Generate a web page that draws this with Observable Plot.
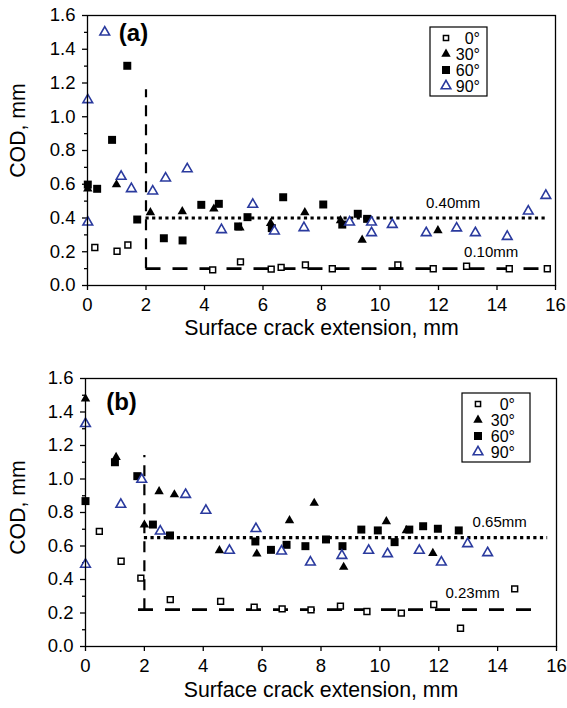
<!DOCTYPE html>
<html><head><meta charset="utf-8">
<script src="https://cdn.jsdelivr.net/npm/d3@7"></script>
<script src="https://cdn.jsdelivr.net/npm/@observablehq/plot@0.6"></script>
<style>body{margin:0;background:#fff} #chart svg{display:block}</style>
</head><body><div id="chart"></div>
<script>
// ---- data ----
const seriesNames = ["0°", "30°", "60°", "90°"];
const xTicks = [0, 2, 4, 6, 8, 10, 12, 14, 16];
const yTicks = [0, 0.2, 0.4, 0.6, 0.8, 1.0, 1.2, 1.4, 1.6];
const yMinorTicks = [0.1, 0.3, 0.5, 0.7, 0.9, 1.1, 1.3, 1.5];

// panel (a)
const a0 = [[0.25,0.225],[1.01,0.203],[1.38,0.24],[4.28,0.093],[5.23,0.14],[6.28,0.097],[6.62,0.107],[7.45,0.122],[8.37,0.099],[10.61,0.122],[11.82,0.099],[12.96,0.114],[14.42,0.099],[15.72,0.099]];
const a30 = [[0.01,0.573],[0.99,0.598],[2.15,0.433],[3.24,0.439],[4.32,0.454],[5.21,0.342],[6.26,0.369],[7.43,0.433],[8.65,0.385],[9.39,0.27],[11.98,0.326]];
const a60 = [[0.01,0.598],[0.33,0.573],[0.84,0.863],[1.36,1.302],[1.7,0.391],[2.61,0.28],[3.25,0.267],[3.89,0.478],[4.49,0.484],[5.15,0.35],[5.47,0.405],[6.3,0.34],[6.69,0.523],[8.06,0.48],[8.71,0.361],[9.24,0.425],[9.56,0.395]];
const a90 = [[0.01,1.1],[0.01,0.375],[0.59,1.501],[1.15,0.646],[1.5,0.573],[2.23,0.559],[2.67,0.636],[3.41,0.691],[4.58,0.33],[5.65,0.48],[6.39,0.322],[7.4,0.342],[8.96,0.375],[9.71,0.375],[9.71,0.312],[10.42,0.361],[11.58,0.312],[12.62,0.34],[13.26,0.312],[14.35,0.29],[15.07,0.44],[15.67,0.533]];
const aMeanHigh = {value: 0.40, x1: 2, x2: 15.7, label: "0.40mm", lx: 12.5, ly: 0.49};
const aMeanLow = {value: 0.10, x1: 2, x2: 15.8, label: "0.10mm", lx: 13.8, ly: 0.20};
const aVertical = {x: 2, y1: 0.10, y2: 1.16};

// panel (b)
const b0 = [[0.47,0.687],[1.21,0.509],[1.88,0.408],[2.88,0.28],[4.59,0.269],[5.73,0.235],[6.68,0.225],[7.66,0.219],[8.66,0.241],[9.56,0.209],[10.73,0.199],[11.83,0.251],[12.74,0.109],[14.58,0.344]];
const b30 = [[0,1.479],[1.04,1.13],[2.0,0.726],[2.5,0.925],[3.02,0.907],[4.55,0.573],[5.82,0.553],[6.93,0.752],[7.77,0.856],[8.77,0.474],[10.22,0.746],[10.9,0.693],[11.8,0.557]];
const b60 = [[0,0.868],[1.0,1.1],[1.76,1.017],[2.29,0.728],[2.87,0.663],[5.77,0.627],[6.3,0.577],[6.83,0.607],[7.47,0.599],[8.17,0.639],[8.73,0.599],[9.37,0.698],[9.93,0.693],[10.5,0.623],[11.0,0.698],[11.47,0.718],[11.97,0.703],[12.68,0.693]];
const b90 = [[0,1.33],[0,0.49],[1.2,0.848],[1.91,0.997],[2.54,0.688],[3.4,0.907],[4.09,0.812],[4.89,0.573],[5.79,0.703],[6.66,0.569],[7.64,0.503],[8.71,0.543],[9.62,0.573],[10.26,0.553],[11.34,0.573],[12.09,0.503],[12.98,0.613],[13.66,0.559]];
const bMeanHigh = {value: 0.65, x1: 2, x2: 15.7, label: "0.65mm", lx: 14.07, ly: 0.74};
const bMeanLow = {value: 0.22, x1: 1.8, x2: 15.45, label: "0.23mm", lx: 13.15, ly: 0.32};
const bVertical = {x: 2, y1: 0.22, y2: 1.14};

// ---- styles ----
const BLUE = "#2a3a9e";
const FONT = "'Liberation Sans', Arial, Helvetica, sans-serif";
const styles = [
  {symbol: "square", fill: "white", stroke: "black", r: 3.3, strokeWidth: 1.5},
  {symbol: "triangle", fill: "black", stroke: "none", r: 3.5, strokeWidth: 0},
  {symbol: "square", fill: "black", stroke: "none", r: 4.5, strokeWidth: 0},
  {symbol: "triangle", fill: "white", stroke: BLUE, r: 3.6, strokeWidth: 1.6}
];

function panel(cfg) {
  const dotMarks = cfg.series.map((s, i) => Plot.dot(s, {
    x: d => d[0], y: d => d[1],
    symbol: styles[i].symbol, fill: styles[i].fill, stroke: styles[i].stroke,
    r: styles[i].r, strokeWidth: styles[i].strokeWidth
  }));
  const svg = Plot.plot({
    width: 567, height: cfg.height,
    marginLeft: cfg.ml, marginRight: cfg.mr, marginTop: cfg.mt, marginBottom: cfg.mb,
    style: {fontFamily: FONT, fontSize: "18.5px", color: "black", background: "white"},
    x: {domain: [0, 16]},
    y: {domain: [0, 1.6]},
    marks: [
      Plot.axisY({ticks: yTicks, tickSize: 5, tickPadding: 7, tickFormat: d3.format(".1f"), label: null, strokeWidth: 1.3}),
      Plot.axisY({ticks: yMinorTicks, tickSize: 3, tickFormat: () => "", label: null, strokeWidth: 1.3}),
      Plot.axisX({ticks: xTicks, tickSize: 5, tickPadding: 7, label: null, strokeWidth: 1.3}),
      Plot.ruleX([cfg.vertical], {x: "x", y1: "y1", y2: "y2", strokeWidth: 2.2, strokeDasharray: "11,8"}),
      Plot.ruleY([cfg.high], {y: "value", x1: "x1", x2: "x2", strokeWidth: 3.2, strokeDasharray: "3.2,3.4"}),
      Plot.ruleY([cfg.low], {y: "value", x1: "x1", x2: "x2", strokeWidth: 2.7, strokeDasharray: "15,12"}),
      ...dotMarks,
      Plot.text([cfg.high, cfg.low], {x: "lx", y: "ly", text: "label", fontSize: 15}),
      Plot.text([cfg.tag], {text: d => d, frameAnchor: "top-left", dx: cfg.tagDx, dy: cfg.tagDy, textAnchor: "middle", lineAnchor: "middle", fontWeight: "bold", fontSize: 24}),
      Plot.text(["Surface crack extension, mm"], {text: d => d, frameAnchor: "bottom", dy: cfg.xlDy, lineAnchor: "middle", fontSize: 21.3}),
      Plot.text(["COD, mm"], {text: d => d, frameAnchor: "left", rotate: -90, dx: cfg.ylDx, dy: cfg.ylDy, lineAnchor: "middle", textAnchor: "middle", fontSize: 21.3}),
      Plot.frame({stroke: "black", strokeWidth: 1.3})
    ]
  });
  // legend box
  const g = d3.select(svg).append("g").attr("transform", `translate(${cfg.lgX},${cfg.lgY})`);
  g.append("rect").attr("x", 0).attr("y", 0).attr("width", cfg.lgW).attr("height", 69)
    .attr("fill", "white").attr("stroke", "black").attr("stroke-width", 1.2);
  seriesNames.forEach((name, i) => {
    const st = styles[i];
    const cy = 11 + i * 16;
    const sym = st.symbol === "square" ? d3.symbolSquare : d3.symbolTriangle;
    const rr = st.symbol === "square" && st.fill === "white" ? 2.9 : st.r;
    g.append("path").attr("d", d3.symbol(sym, Math.PI * rr * rr)())
      .attr("transform", `translate(16,${cy})`)
      .attr("fill", st.fill).attr("stroke", st.stroke).attr("stroke-width", st.strokeWidth);
    g.append("text").attr("x", cfg.lgTx).attr("y", cy).attr("dy", "0.35em")
      .attr("text-anchor", "end").attr("font-size", 16).attr("font-family", FONT).text(name);
  });
  return svg;
}

const chart = document.getElementById("chart");
chart.appendChild(panel({
  series: [a0, a30, a60, a90], high: aMeanHigh, low: aMeanLow, vertical: aVertical,
  tag: "(a)", tagDx: 46, tagDy: 18,
  height: 350, ml: 87, mr: 12, mt: 15, mb: 65,
  xlDy: 43, ylDx: -69, ylDy: -20,
  lgX: 430, lgY: 27, lgW: 57, lgTx: 50
}));
chart.appendChild(panel({
  series: [b0, b30, b60, b90], high: bMeanHigh, low: bMeanLow, vertical: bVertical,
  tag: "(b)", tagDx: 36, tagDy: 24,
  height: 358, ml: 85, mr: 11, mt: 28, mb: 62,
  xlDy: 44, ylDx: -67, ylDy: -5,
  lgX: 462, lgY: 43, lgW: 68, lgTx: 53
}));
</script></body></html>
